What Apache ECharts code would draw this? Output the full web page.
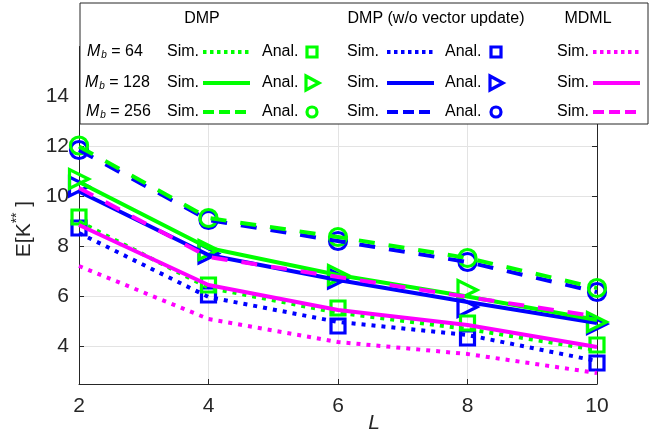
<!DOCTYPE html>
<html><head><meta charset="utf-8">
<script src="https://cdn.jsdelivr.net/npm/echarts@6/dist/echarts.min.js"></script>
<style>html,body{margin:0;padding:0;background:#fff}#c{width:652px;height:434px}</style>
</head><body><div id="c"></div>
<script>
const L = [2, 4, 6, 8, 10];
const xTicks = [2, 4, 6, 8, 10];
const yTicks = [4, 6, 8, 10, 12, 14];
// DMP
const dmpSim64   = [9.0, 6.35, 5.35, 4.7, 3.86];
const dmpAnal64  = [9.18, 6.46, 5.54, 4.94, 4.06];
const dmpSim128  = [10.58, 7.94, 6.86, 6.0, 5.06];
const dmpAnal128 = [10.7, 7.86, 6.86, 6.26, 4.98];
const dmpSim256  = [12.0, 9.14, 8.38, 7.54, 6.34];
const dmpAnal256 = [12.04, 9.14, 8.38, 7.54, 6.34];
// DMP (w/o vector update)
const woSim64   = [8.54, 5.98, 4.98, 4.46, 3.42];
const woAnal64  = [8.74, 6.06, 4.82, 4.34, 3.34];
const woSim128  = [10.2, 7.66, 6.66, 5.78, 4.94];
const woAnal128 = [10.4, 7.72, 6.72, 5.58, 4.9];
const woSim256  = [11.86, 9.06, 8.22, 7.38, 6.18];
const woAnal256 = [11.86, 9.06, 8.22, 7.38, 6.18];
// MDML
const mdmlSim64  = [7.22, 5.1, 4.18, 3.7, 2.94];
const mdmlSim128 = [8.86, 6.46, 5.46, 4.86, 3.98];
const mdmlSim256 = [10.34, 7.58, 6.78, 5.98, 5.2];

const GREEN = '#00ff00', BLUE = '#0000ff', MAG = '#ff00ff', AX = '#262626';
const FONT = 'Liberation Sans, Arial, sans-serif';
const DOT = [4, 6], DASH = [16, 14];

function pts(v) { return L.map((x, i) => [x, v[i]]); }
function sim(data, color, type) {
  return { type: 'line', data: pts(data), symbol: 'none', silent: true, animation: false,
    lineStyle: { color: color, width: 4, type: type, cap: 'butt', opacity: 1 } };
}
function anal(data, color, shape) {
  const s = { type: 'scatter', data: pts(data), animation: false, silent: true,
    itemStyle: { color: 'rgba(0,0,0,0)', borderColor: color, borderWidth: 3.2, opacity: 1 } };
  if (shape === 'sq') { s.symbol = 'rect'; s.symbolSize = 14; }
  if (shape === 'tri') { s.symbol = 'triangle'; s.symbolSize = 19; s.symbolRotate = -90; }
  if (shape === 'ci') { s.symbol = 'circle'; s.symbolSize = 17; }
  return s;
}

const series = [
  sim(woSim64, BLUE, DOT), sim(woSim128, BLUE, 'solid'), sim(woSim256, BLUE, DASH),
  sim(dmpSim64, GREEN, DOT), sim(dmpSim128, GREEN, 'solid'), sim(dmpSim256, GREEN, DASH),
  sim(mdmlSim64, MAG, DOT), sim(mdmlSim128, MAG, 'solid'), sim(mdmlSim256, MAG, DASH),
  anal(woAnal64, BLUE, 'sq'), anal(woAnal128, BLUE, 'tri'), anal(woAnal256, BLUE, 'ci'),
  anal(dmpAnal64, GREEN, 'sq'), anal(dmpAnal128, GREEN, 'tri'), anal(dmpAnal256, GREEN, 'ci')
];

// legend graphics
const g = [];
g.push({ type: 'rect', shape: { x: 80, y: 3, width: 568, height: 121 },
  style: { fill: '#fff', stroke: AX, lineWidth: 1 }, z: 100 });
function txt(x, y, text, align, extra) {
  g.push(Object.assign({ type: 'text', x: x, y: y, z: 101,
    style: { text: text, font: '16px ' + FONT, fill: '#000', align: align || 'left', verticalAlign: 'middle' } }, extra || {}));
}
txt(202, 19, 'DMP', 'center');
txt(436, 19, 'DMP (w/o vector update)', 'center');
txt(588, 19, 'MDML', 'center');
const rowsY = [52, 83, 112];
const rowLbl = ['64', '128', '256'];
const rowX = [87, 85, 86];
const lt = [[3.5, 3.5], 'solid', [11, 5]];
const mk = ['sq', 'tri', 'ci'];
function lline(x1, x2, y, color, type) {
  g.push({ type: 'line', z: 101, shape: { x1: x1, y1: y, x2: x2, y2: y },
    style: { stroke: color, lineWidth: 4, lineDash: type === 'solid' ? null : type, lineCap: 'butt' } });
}
function lmark(x, y, color, shape) {
  const st = { fill: 'none', stroke: color, lineWidth: 3.2 };
  if (shape === 'sq') g.push({ type: 'rect', z: 101, shape: { x: x - 5, y: y - 5, width: 10, height: 10 }, style: st });
  if (shape === 'ci') g.push({ type: 'circle', z: 101, shape: { cx: x, cy: y, r: 5 }, style: st });
  if (shape === 'tri') g.push({ type: 'polygon', z: 101, shape: { points: [[x - 6, y - 7], [x + 7, y], [x - 6, y + 7]] }, style: st });
}
rowsY.forEach((y, i) => {
  g.push({ type: 'text', x: rowX[i], y: y, z: 101, style: {
    text: '{m|M}{s|b}{n| = ' + rowLbl[i] + '}', verticalAlign: 'middle',
    rich: { m: { font: 'italic 16px ' + FONT, fill: '#000' },
            s: { font: 'italic 10px ' + FONT, fill: '#000', padding: [6, 0, 0, 1] },
            n: { font: '16px ' + FONT, fill: '#000' } } } });
  txt(167, y, 'Sim.');
  lline(203, 250, y, GREEN, lt[i]);
  txt(262, y, 'Anal.');
  lmark(312, y, GREEN, mk[i]);
  txt(347, y, 'Sim.');
  lline(387, 434, y, BLUE, lt[i]);
  txt(445, y, 'Anal.');
  lmark(496, y, BLUE, mk[i]);
  txt(557, y, 'Sim.');
  lline(593, 640, y, MAG, lt[i]);
});
// axis titles
g.push({ type: 'text', x: 24, y: 229, rotation: Math.PI / 2, z: 50, style: {
  text: '{a|E[K}{b|**}{a| ]}', align: 'center', verticalAlign: 'middle',
  rich: { a: { font: '21px ' + FONT, fill: AX }, b: { font: '14px ' + FONT, fill: AX, padding: [0, 0, 14, 0] } } } });
g.push({ type: 'text', x: 374, y: 423, z: 50, style: { text: 'L', font: 'italic 21px ' + FONT, fill: AX, align: 'center', verticalAlign: 'middle' } });

const yBase = { type: 'value', min: 2.5, max: 16,
  axisLine: { show: true, lineStyle: { color: AX, width: 1 } },
  axisTick: { show: true, inside: true, length: 5, customValues: yTicks, lineStyle: { color: AX } } };

const chart = echarts.init(document.getElementById('c'), null, { renderer: 'canvas' });
chart.setOption({
  animation: false,
  backgroundColor: '#fff',
  grid: { left: 79, right: 55, top: 46.5, bottom: 50, containLabel: false },
  xAxis: { type: 'value', min: 2, max: 10, interval: 2,
    axisLine: { show: true, onZero: false, lineStyle: { color: AX } },
    axisTick: { show: true, inside: true, length: 5, lineStyle: { color: AX } },
    axisLabel: { color: AX, fontSize: 21, fontFamily: FONT, margin: 12 },
    splitLine: { show: true, lineStyle: { color: '#e3e3e3', width: 1 } } },
  yAxis: [
    Object.assign({}, yBase, { position: 'left',
      axisLabel: { customValues: yTicks, color: AX, fontSize: 21, fontFamily: FONT, margin: 10 },
      splitLine: { show: true, lineStyle: { color: '#e3e3e3', width: 1 } } }),
    Object.assign({}, yBase, { position: 'right', axisLabel: { show: false }, splitLine: { show: false } })
  ],
  series: series,
  graphic: { elements: g }
});
</script></body></html>
